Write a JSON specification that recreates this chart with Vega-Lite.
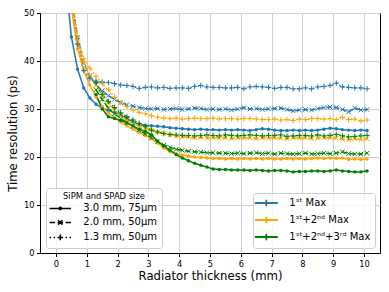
{
"$schema":"https://vega.github.io/schema/vega-lite/v6.json",
"width":340,"height":240,
"autosize":{"type":"none"},
"padding":{"left":40,"top":13,"right":9,"bottom":39},
"config":{
 "font":"DejaVu Sans",
 "view":{"stroke":"black","strokeWidth":1},
 "axis":{"domainColor":"black","tickColor":"black","labelColor":"black","titleColor":"black","labelFont":"DejaVu Sans","titleFont":"DejaVu Sans","labelFontSize":8.3,"titleFontSize":11.7,"titleFontWeight":"normal","tickSize":3.5,"gridColor":"#d0d0d0","gridWidth":1,"labelPadding":2.5},
 "legend":{"labelFont":"DejaVu Sans","labelFontSize":10,"labelColor":"black","titleFont":"DejaVu Sans","titleFontSize":8.4,"titleFontWeight":"normal","titleColor":"black","padding":4,"fillColor":"rgba(255,255,255,0.8)","strokeColor":"#cccccc","cornerRadius":3,"offset":5.5,"rowPadding":3,"titlePadding":2}
},
"data":{"values":[
{"x":0.3,"y":58,"m":"1ˢᵗ Max","s":"3.0 mm, 75μm"},{"x":0.5,"y":45,"m":"1ˢᵗ Max","s":"3.0 mm, 75μm"},{"x":0.7,"y":38.3,"m":"1ˢᵗ Max","s":"3.0 mm, 75μm"},{"x":0.9,"y":34.4,"m":"1ˢᵗ Max","s":"3.0 mm, 75μm"},{"x":1.1,"y":32.3,"m":"1ˢᵗ Max","s":"3.0 mm, 75μm"},{"x":1.3,"y":31.0,"m":"1ˢᵗ Max","s":"3.0 mm, 75μm"},{"x":1.5,"y":30.2,"m":"1ˢᵗ Max","s":"3.0 mm, 75μm"},{"x":1.7,"y":29.7,"m":"1ˢᵗ Max","s":"3.0 mm, 75μm"},{"x":1.9,"y":29.3,"m":"1ˢᵗ Max","s":"3.0 mm, 75μm"},{"x":2.1,"y":28.8,"m":"1ˢᵗ Max","s":"3.0 mm, 75μm"},
{"x":2.3,"y":28.0,"m":"1ˢᵗ Max","s":"3.0 mm, 75μm"},{"x":2.5,"y":27.3,"m":"1ˢᵗ Max","s":"3.0 mm, 75μm"},{"x":2.7,"y":26.8,"m":"1ˢᵗ Max","s":"3.0 mm, 75μm"},{"x":2.9,"y":26.6,"m":"1ˢᵗ Max","s":"3.0 mm, 75μm"},{"x":3.1,"y":26.5,"m":"1ˢᵗ Max","s":"3.0 mm, 75μm"},{"x":3.3,"y":26.4,"m":"1ˢᵗ Max","s":"3.0 mm, 75μm"},{"x":3.5,"y":26.3,"m":"1ˢᵗ Max","s":"3.0 mm, 75μm"},{"x":3.7,"y":26.1,"m":"1ˢᵗ Max","s":"3.0 mm, 75μm"},{"x":3.9,"y":26.0,"m":"1ˢᵗ Max","s":"3.0 mm, 75μm"},{"x":4.1,"y":25.9,"m":"1ˢᵗ Max","s":"3.0 mm, 75μm"},
{"x":4.3,"y":25.8,"m":"1ˢᵗ Max","s":"3.0 mm, 75μm"},{"x":4.5,"y":25.7,"m":"1ˢᵗ Max","s":"3.0 mm, 75μm"},{"x":4.7,"y":25.8,"m":"1ˢᵗ Max","s":"3.0 mm, 75μm"},{"x":4.9,"y":25.7,"m":"1ˢᵗ Max","s":"3.0 mm, 75μm"},{"x":5.1,"y":25.7,"m":"1ˢᵗ Max","s":"3.0 mm, 75μm"},{"x":5.3,"y":25.6,"m":"1ˢᵗ Max","s":"3.0 mm, 75μm"},{"x":5.5,"y":25.7,"m":"1ˢᵗ Max","s":"3.0 mm, 75μm"},{"x":5.7,"y":25.6,"m":"1ˢᵗ Max","s":"3.0 mm, 75μm"},{"x":5.9,"y":25.7,"m":"1ˢᵗ Max","s":"3.0 mm, 75μm"},{"x":6.1,"y":25.6,"m":"1ˢᵗ Max","s":"3.0 mm, 75μm"},
{"x":6.3,"y":25.5,"m":"1ˢᵗ Max","s":"3.0 mm, 75μm"},{"x":6.5,"y":25.7,"m":"1ˢᵗ Max","s":"3.0 mm, 75μm"},{"x":6.7,"y":25.9,"m":"1ˢᵗ Max","s":"3.0 mm, 75μm"},{"x":6.9,"y":25.8,"m":"1ˢᵗ Max","s":"3.0 mm, 75μm"},{"x":7.1,"y":25.6,"m":"1ˢᵗ Max","s":"3.0 mm, 75μm"},{"x":7.3,"y":25.5,"m":"1ˢᵗ Max","s":"3.0 mm, 75μm"},{"x":7.5,"y":25.5,"m":"1ˢᵗ Max","s":"3.0 mm, 75μm"},{"x":7.7,"y":25.6,"m":"1ˢᵗ Max","s":"3.0 mm, 75μm"},{"x":7.9,"y":25.5,"m":"1ˢᵗ Max","s":"3.0 mm, 75μm"},{"x":8.1,"y":25.6,"m":"1ˢᵗ Max","s":"3.0 mm, 75μm"},
{"x":8.3,"y":25.5,"m":"1ˢᵗ Max","s":"3.0 mm, 75μm"},{"x":8.5,"y":25.6,"m":"1ˢᵗ Max","s":"3.0 mm, 75μm"},{"x":8.7,"y":25.8,"m":"1ˢᵗ Max","s":"3.0 mm, 75μm"},{"x":8.9,"y":26.0,"m":"1ˢᵗ Max","s":"3.0 mm, 75μm"},{"x":9.1,"y":25.9,"m":"1ˢᵗ Max","s":"3.0 mm, 75μm"},{"x":9.3,"y":25.7,"m":"1ˢᵗ Max","s":"3.0 mm, 75μm"},{"x":9.5,"y":25.6,"m":"1ˢᵗ Max","s":"3.0 mm, 75μm"},{"x":9.7,"y":25.5,"m":"1ˢᵗ Max","s":"3.0 mm, 75μm"},{"x":9.9,"y":25.6,"m":"1ˢᵗ Max","s":"3.0 mm, 75μm"},{"x":10.1,"y":25.5,"m":"1ˢᵗ Max","s":"3.0 mm, 75μm"},

{"x":0.3,"y":65,"m":"1ˢᵗ Max","s":"2.0 mm, 50μm"},{"x":0.5,"y":53,"m":"1ˢᵗ Max","s":"2.0 mm, 50μm"},{"x":0.7,"y":45,"m":"1ˢᵗ Max","s":"2.0 mm, 50μm"},{"x":0.9,"y":39.5,"m":"1ˢᵗ Max","s":"2.0 mm, 50μm"},{"x":1.1,"y":36.8,"m":"1ˢᵗ Max","s":"2.0 mm, 50μm"},{"x":1.3,"y":35.0,"m":"1ˢᵗ Max","s":"2.0 mm, 50μm"},{"x":1.5,"y":33.8,"m":"1ˢᵗ Max","s":"2.0 mm, 50μm"},{"x":1.7,"y":32.8,"m":"1ˢᵗ Max","s":"2.0 mm, 50μm"},{"x":1.9,"y":32.0,"m":"1ˢᵗ Max","s":"2.0 mm, 50μm"},{"x":2.1,"y":31.3,"m":"1ˢᵗ Max","s":"2.0 mm, 50μm"},
{"x":2.3,"y":30.9,"m":"1ˢᵗ Max","s":"2.0 mm, 50μm"},{"x":2.5,"y":30.6,"m":"1ˢᵗ Max","s":"2.0 mm, 50μm"},{"x":2.7,"y":30.3,"m":"1ˢᵗ Max","s":"2.0 mm, 50μm"},{"x":2.9,"y":30.1,"m":"1ˢᵗ Max","s":"2.0 mm, 50μm"},{"x":3.1,"y":30.0,"m":"1ˢᵗ Max","s":"2.0 mm, 50μm"},{"x":3.3,"y":30.1,"m":"1ˢᵗ Max","s":"2.0 mm, 50μm"},{"x":3.5,"y":29.9,"m":"1ˢᵗ Max","s":"2.0 mm, 50μm"},{"x":3.7,"y":30.0,"m":"1ˢᵗ Max","s":"2.0 mm, 50μm"},{"x":3.9,"y":30.1,"m":"1ˢᵗ Max","s":"2.0 mm, 50μm"},{"x":4.1,"y":29.9,"m":"1ˢᵗ Max","s":"2.0 mm, 50μm"},
{"x":4.3,"y":30.0,"m":"1ˢᵗ Max","s":"2.0 mm, 50μm"},{"x":4.5,"y":30.2,"m":"1ˢᵗ Max","s":"2.0 mm, 50μm"},{"x":4.7,"y":30.1,"m":"1ˢᵗ Max","s":"2.0 mm, 50μm"},{"x":4.9,"y":29.9,"m":"1ˢᵗ Max","s":"2.0 mm, 50μm"},{"x":5.1,"y":30.0,"m":"1ˢᵗ Max","s":"2.0 mm, 50μm"},{"x":5.3,"y":29.9,"m":"1ˢᵗ Max","s":"2.0 mm, 50μm"},{"x":5.5,"y":30.0,"m":"1ˢᵗ Max","s":"2.0 mm, 50μm"},{"x":5.7,"y":29.8,"m":"1ˢᵗ Max","s":"2.0 mm, 50μm"},{"x":5.9,"y":30.0,"m":"1ˢᵗ Max","s":"2.0 mm, 50μm"},{"x":6.1,"y":30.3,"m":"1ˢᵗ Max","s":"2.0 mm, 50μm"},
{"x":6.3,"y":30.0,"m":"1ˢᵗ Max","s":"2.0 mm, 50μm"},{"x":6.5,"y":30.1,"m":"1ˢᵗ Max","s":"2.0 mm, 50μm"},{"x":6.7,"y":29.9,"m":"1ˢᵗ Max","s":"2.0 mm, 50μm"},{"x":6.9,"y":30.0,"m":"1ˢᵗ Max","s":"2.0 mm, 50μm"},{"x":7.1,"y":30.1,"m":"1ˢᵗ Max","s":"2.0 mm, 50μm"},{"x":7.3,"y":30.2,"m":"1ˢᵗ Max","s":"2.0 mm, 50μm"},{"x":7.5,"y":29.9,"m":"1ˢᵗ Max","s":"2.0 mm, 50μm"},{"x":7.7,"y":29.6,"m":"1ˢᵗ Max","s":"2.0 mm, 50μm"},{"x":7.9,"y":29.8,"m":"1ˢᵗ Max","s":"2.0 mm, 50μm"},{"x":8.1,"y":29.9,"m":"1ˢᵗ Max","s":"2.0 mm, 50μm"},
{"x":8.3,"y":29.8,"m":"1ˢᵗ Max","s":"2.0 mm, 50μm"},{"x":8.5,"y":30.1,"m":"1ˢᵗ Max","s":"2.0 mm, 50μm"},{"x":8.7,"y":30.3,"m":"1ˢᵗ Max","s":"2.0 mm, 50μm"},{"x":8.9,"y":30.4,"m":"1ˢᵗ Max","s":"2.0 mm, 50μm"},{"x":9.1,"y":30.3,"m":"1ˢᵗ Max","s":"2.0 mm, 50μm"},{"x":9.3,"y":29.9,"m":"1ˢᵗ Max","s":"2.0 mm, 50μm"},{"x":9.5,"y":29.4,"m":"1ˢᵗ Max","s":"2.0 mm, 50μm"},{"x":9.7,"y":30.2,"m":"1ˢᵗ Max","s":"2.0 mm, 50μm"},{"x":9.9,"y":29.8,"m":"1ˢᵗ Max","s":"2.0 mm, 50μm"},{"x":10.1,"y":29.9,"m":"1ˢᵗ Max","s":"2.0 mm, 50μm"},

{"x":0.3,"y":66,"m":"1ˢᵗ Max","s":"1.3 mm, 50μm"},{"x":0.5,"y":54,"m":"1ˢᵗ Max","s":"1.3 mm, 50μm"},{"x":0.7,"y":43.5,"m":"1ˢᵗ Max","s":"1.3 mm, 50μm"},{"x":0.9,"y":38.0,"m":"1ˢᵗ Max","s":"1.3 mm, 50μm"},{"x":1.1,"y":36.3,"m":"1ˢᵗ Max","s":"1.3 mm, 50μm"},{"x":1.3,"y":35.8,"m":"1ˢᵗ Max","s":"1.3 mm, 50μm"},{"x":1.5,"y":35.6,"m":"1ˢᵗ Max","s":"1.3 mm, 50μm"},{"x":1.7,"y":35.5,"m":"1ˢᵗ Max","s":"1.3 mm, 50μm"},{"x":1.9,"y":35.3,"m":"1ˢᵗ Max","s":"1.3 mm, 50μm"},{"x":2.1,"y":35.0,"m":"1ˢᵗ Max","s":"1.3 mm, 50μm"},
{"x":2.3,"y":34.9,"m":"1ˢᵗ Max","s":"1.3 mm, 50μm"},{"x":2.5,"y":34.7,"m":"1ˢᵗ Max","s":"1.3 mm, 50μm"},{"x":2.7,"y":34.3,"m":"1ˢᵗ Max","s":"1.3 mm, 50μm"},{"x":2.9,"y":34.5,"m":"1ˢᵗ Max","s":"1.3 mm, 50μm"},{"x":3.1,"y":34.6,"m":"1ˢᵗ Max","s":"1.3 mm, 50μm"},{"x":3.3,"y":34.4,"m":"1ˢᵗ Max","s":"1.3 mm, 50μm"},{"x":3.5,"y":34.5,"m":"1ˢᵗ Max","s":"1.3 mm, 50μm"},{"x":3.7,"y":34.3,"m":"1ˢᵗ Max","s":"1.3 mm, 50μm"},{"x":3.9,"y":34.4,"m":"1ˢᵗ Max","s":"1.3 mm, 50μm"},{"x":4.1,"y":34.4,"m":"1ˢᵗ Max","s":"1.3 mm, 50μm"},
{"x":4.3,"y":34.3,"m":"1ˢᵗ Max","s":"1.3 mm, 50μm"},{"x":4.5,"y":34.7,"m":"1ˢᵗ Max","s":"1.3 mm, 50μm"},{"x":4.7,"y":34.9,"m":"1ˢᵗ Max","s":"1.3 mm, 50μm"},{"x":4.9,"y":34.6,"m":"1ˢᵗ Max","s":"1.3 mm, 50μm"},{"x":5.1,"y":34.5,"m":"1ˢᵗ Max","s":"1.3 mm, 50μm"},{"x":5.3,"y":34.5,"m":"1ˢᵗ Max","s":"1.3 mm, 50μm"},{"x":5.5,"y":34.4,"m":"1ˢᵗ Max","s":"1.3 mm, 50μm"},{"x":5.7,"y":34.4,"m":"1ˢᵗ Max","s":"1.3 mm, 50μm"},{"x":5.9,"y":34.5,"m":"1ˢᵗ Max","s":"1.3 mm, 50μm"},{"x":6.1,"y":34.2,"m":"1ˢᵗ Max","s":"1.3 mm, 50μm"},
{"x":6.3,"y":34.6,"m":"1ˢᵗ Max","s":"1.3 mm, 50μm"},{"x":6.5,"y":34.7,"m":"1ˢᵗ Max","s":"1.3 mm, 50μm"},{"x":6.7,"y":34.6,"m":"1ˢᵗ Max","s":"1.3 mm, 50μm"},{"x":6.9,"y":34.5,"m":"1ˢᵗ Max","s":"1.3 mm, 50μm"},{"x":7.1,"y":34.3,"m":"1ˢᵗ Max","s":"1.3 mm, 50μm"},{"x":7.3,"y":34.5,"m":"1ˢᵗ Max","s":"1.3 mm, 50μm"},{"x":7.5,"y":34.5,"m":"1ˢᵗ Max","s":"1.3 mm, 50μm"},{"x":7.7,"y":34.2,"m":"1ˢᵗ Max","s":"1.3 mm, 50μm"},{"x":7.9,"y":34.2,"m":"1ˢᵗ Max","s":"1.3 mm, 50μm"},{"x":8.1,"y":34.4,"m":"1ˢᵗ Max","s":"1.3 mm, 50μm"},
{"x":8.3,"y":34.2,"m":"1ˢᵗ Max","s":"1.3 mm, 50μm"},{"x":8.5,"y":34.6,"m":"1ˢᵗ Max","s":"1.3 mm, 50μm"},{"x":8.7,"y":34.7,"m":"1ˢᵗ Max","s":"1.3 mm, 50μm"},{"x":8.9,"y":34.9,"m":"1ˢᵗ Max","s":"1.3 mm, 50μm"},{"x":9.1,"y":35.4,"m":"1ˢᵗ Max","s":"1.3 mm, 50μm"},{"x":9.3,"y":34.6,"m":"1ˢᵗ Max","s":"1.3 mm, 50μm"},{"x":9.5,"y":34.5,"m":"1ˢᵗ Max","s":"1.3 mm, 50μm"},{"x":9.7,"y":34.4,"m":"1ˢᵗ Max","s":"1.3 mm, 50μm"},{"x":9.9,"y":34.4,"m":"1ˢᵗ Max","s":"1.3 mm, 50μm"},{"x":10.1,"y":34.2,"m":"1ˢᵗ Max","s":"1.3 mm, 50μm"},

{"x":0.3,"y":65,"m":"1ˢᵗ+2ⁿᵈ Max","s":"3.0 mm, 75μm"},{"x":0.5,"y":51,"m":"1ˢᵗ+2ⁿᵈ Max","s":"3.0 mm, 75μm"},{"x":0.7,"y":42.5,"m":"1ˢᵗ+2ⁿᵈ Max","s":"3.0 mm, 75μm"},{"x":0.9,"y":38.0,"m":"1ˢᵗ+2ⁿᵈ Max","s":"3.0 mm, 75μm"},{"x":1.1,"y":35.0,"m":"1ˢᵗ+2ⁿᵈ Max","s":"3.0 mm, 75μm"},{"x":1.3,"y":32.5,"m":"1ˢᵗ+2ⁿᵈ Max","s":"3.0 mm, 75μm"},{"x":1.5,"y":30.5,"m":"1ˢᵗ+2ⁿᵈ Max","s":"3.0 mm, 75μm"},{"x":1.7,"y":29.2,"m":"1ˢᵗ+2ⁿᵈ Max","s":"3.0 mm, 75μm"},{"x":1.9,"y":28.2,"m":"1ˢᵗ+2ⁿᵈ Max","s":"3.0 mm, 75μm"},{"x":2.1,"y":27.3,"m":"1ˢᵗ+2ⁿᵈ Max","s":"3.0 mm, 75μm"},
{"x":2.3,"y":26.5,"m":"1ˢᵗ+2ⁿᵈ Max","s":"3.0 mm, 75μm"},{"x":2.5,"y":25.8,"m":"1ˢᵗ+2ⁿᵈ Max","s":"3.0 mm, 75μm"},{"x":2.7,"y":25.1,"m":"1ˢᵗ+2ⁿᵈ Max","s":"3.0 mm, 75μm"},{"x":2.9,"y":24.5,"m":"1ˢᵗ+2ⁿᵈ Max","s":"3.0 mm, 75μm"},{"x":3.1,"y":23.8,"m":"1ˢᵗ+2ⁿᵈ Max","s":"3.0 mm, 75μm"},{"x":3.3,"y":22.9,"m":"1ˢᵗ+2ⁿᵈ Max","s":"3.0 mm, 75μm"},{"x":3.5,"y":21.9,"m":"1ˢᵗ+2ⁿᵈ Max","s":"3.0 mm, 75μm"},{"x":3.7,"y":21.1,"m":"1ˢᵗ+2ⁿᵈ Max","s":"3.0 mm, 75μm"},{"x":3.9,"y":20.7,"m":"1ˢᵗ+2ⁿᵈ Max","s":"3.0 mm, 75μm"},{"x":4.1,"y":20.4,"m":"1ˢᵗ+2ⁿᵈ Max","s":"3.0 mm, 75μm"},
{"x":4.3,"y":20.2,"m":"1ˢᵗ+2ⁿᵈ Max","s":"3.0 mm, 75μm"},{"x":4.5,"y":20.0,"m":"1ˢᵗ+2ⁿᵈ Max","s":"3.0 mm, 75μm"},{"x":4.7,"y":19.9,"m":"1ˢᵗ+2ⁿᵈ Max","s":"3.0 mm, 75μm"},{"x":4.9,"y":19.8,"m":"1ˢᵗ+2ⁿᵈ Max","s":"3.0 mm, 75μm"},{"x":5.1,"y":19.7,"m":"1ˢᵗ+2ⁿᵈ Max","s":"3.0 mm, 75μm"},{"x":5.3,"y":19.7,"m":"1ˢᵗ+2ⁿᵈ Max","s":"3.0 mm, 75μm"},{"x":5.5,"y":19.6,"m":"1ˢᵗ+2ⁿᵈ Max","s":"3.0 mm, 75μm"},{"x":5.7,"y":19.7,"m":"1ˢᵗ+2ⁿᵈ Max","s":"3.0 mm, 75μm"},{"x":5.9,"y":19.6,"m":"1ˢᵗ+2ⁿᵈ Max","s":"3.0 mm, 75μm"},{"x":6.1,"y":19.7,"m":"1ˢᵗ+2ⁿᵈ Max","s":"3.0 mm, 75μm"},
{"x":6.3,"y":19.6,"m":"1ˢᵗ+2ⁿᵈ Max","s":"3.0 mm, 75μm"},{"x":6.5,"y":19.7,"m":"1ˢᵗ+2ⁿᵈ Max","s":"3.0 mm, 75μm"},{"x":6.7,"y":19.6,"m":"1ˢᵗ+2ⁿᵈ Max","s":"3.0 mm, 75μm"},{"x":6.9,"y":19.7,"m":"1ˢᵗ+2ⁿᵈ Max","s":"3.0 mm, 75μm"},{"x":7.1,"y":19.6,"m":"1ˢᵗ+2ⁿᵈ Max","s":"3.0 mm, 75μm"},{"x":7.3,"y":19.6,"m":"1ˢᵗ+2ⁿᵈ Max","s":"3.0 mm, 75μm"},{"x":7.5,"y":19.7,"m":"1ˢᵗ+2ⁿᵈ Max","s":"3.0 mm, 75μm"},{"x":7.7,"y":19.6,"m":"1ˢᵗ+2ⁿᵈ Max","s":"3.0 mm, 75μm"},{"x":7.9,"y":19.7,"m":"1ˢᵗ+2ⁿᵈ Max","s":"3.0 mm, 75μm"},{"x":8.1,"y":19.6,"m":"1ˢᵗ+2ⁿᵈ Max","s":"3.0 mm, 75μm"},
{"x":8.3,"y":19.7,"m":"1ˢᵗ+2ⁿᵈ Max","s":"3.0 mm, 75μm"},{"x":8.5,"y":19.8,"m":"1ˢᵗ+2ⁿᵈ Max","s":"3.0 mm, 75μm"},{"x":8.7,"y":19.7,"m":"1ˢᵗ+2ⁿᵈ Max","s":"3.0 mm, 75μm"},{"x":8.9,"y":19.8,"m":"1ˢᵗ+2ⁿᵈ Max","s":"3.0 mm, 75μm"},{"x":9.1,"y":19.7,"m":"1ˢᵗ+2ⁿᵈ Max","s":"3.0 mm, 75μm"},{"x":9.3,"y":19.8,"m":"1ˢᵗ+2ⁿᵈ Max","s":"3.0 mm, 75μm"},{"x":9.5,"y":19.5,"m":"1ˢᵗ+2ⁿᵈ Max","s":"3.0 mm, 75μm"},{"x":9.7,"y":19.6,"m":"1ˢᵗ+2ⁿᵈ Max","s":"3.0 mm, 75μm"},{"x":9.9,"y":19.5,"m":"1ˢᵗ+2ⁿᵈ Max","s":"3.0 mm, 75μm"},{"x":10.1,"y":19.6,"m":"1ˢᵗ+2ⁿᵈ Max","s":"3.0 mm, 75μm"},

{"x":0.3,"y":68,"m":"1ˢᵗ+2ⁿᵈ Max","s":"2.0 mm, 50μm"},{"x":0.5,"y":53,"m":"1ˢᵗ+2ⁿᵈ Max","s":"2.0 mm, 50μm"},{"x":0.7,"y":44,"m":"1ˢᵗ+2ⁿᵈ Max","s":"2.0 mm, 50μm"},{"x":0.9,"y":39.5,"m":"1ˢᵗ+2ⁿᵈ Max","s":"2.0 mm, 50μm"},{"x":1.1,"y":37.0,"m":"1ˢᵗ+2ⁿᵈ Max","s":"2.0 mm, 50μm"},{"x":1.3,"y":35.0,"m":"1ˢᵗ+2ⁿᵈ Max","s":"2.0 mm, 50μm"},{"x":1.5,"y":33.0,"m":"1ˢᵗ+2ⁿᵈ Max","s":"2.0 mm, 50μm"},{"x":1.7,"y":31.3,"m":"1ˢᵗ+2ⁿᵈ Max","s":"2.0 mm, 50μm"},{"x":1.9,"y":29.8,"m":"1ˢᵗ+2ⁿᵈ Max","s":"2.0 mm, 50μm"},{"x":2.1,"y":28.6,"m":"1ˢᵗ+2ⁿᵈ Max","s":"2.0 mm, 50μm"},
{"x":2.3,"y":27.7,"m":"1ˢᵗ+2ⁿᵈ Max","s":"2.0 mm, 50μm"},{"x":2.5,"y":27.0,"m":"1ˢᵗ+2ⁿᵈ Max","s":"2.0 mm, 50μm"},{"x":2.7,"y":26.4,"m":"1ˢᵗ+2ⁿᵈ Max","s":"2.0 mm, 50μm"},{"x":2.9,"y":26.0,"m":"1ˢᵗ+2ⁿᵈ Max","s":"2.0 mm, 50μm"},{"x":3.1,"y":25.6,"m":"1ˢᵗ+2ⁿᵈ Max","s":"2.0 mm, 50μm"},{"x":3.3,"y":25.2,"m":"1ˢᵗ+2ⁿᵈ Max","s":"2.0 mm, 50μm"},{"x":3.5,"y":24.9,"m":"1ˢᵗ+2ⁿᵈ Max","s":"2.0 mm, 50μm"},{"x":3.7,"y":24.6,"m":"1ˢᵗ+2ⁿᵈ Max","s":"2.0 mm, 50μm"},{"x":3.9,"y":24.4,"m":"1ˢᵗ+2ⁿᵈ Max","s":"2.0 mm, 50μm"},{"x":4.1,"y":24.2,"m":"1ˢᵗ+2ⁿᵈ Max","s":"2.0 mm, 50μm"},
{"x":4.3,"y":24.1,"m":"1ˢᵗ+2ⁿᵈ Max","s":"2.0 mm, 50μm"},{"x":4.5,"y":24.0,"m":"1ˢᵗ+2ⁿᵈ Max","s":"2.0 mm, 50μm"},{"x":4.7,"y":24.1,"m":"1ˢᵗ+2ⁿᵈ Max","s":"2.0 mm, 50μm"},{"x":4.9,"y":23.9,"m":"1ˢᵗ+2ⁿᵈ Max","s":"2.0 mm, 50μm"},{"x":5.1,"y":24.0,"m":"1ˢᵗ+2ⁿᵈ Max","s":"2.0 mm, 50μm"},{"x":5.3,"y":23.9,"m":"1ˢᵗ+2ⁿᵈ Max","s":"2.0 mm, 50μm"},{"x":5.5,"y":24.0,"m":"1ˢᵗ+2ⁿᵈ Max","s":"2.0 mm, 50μm"},{"x":5.7,"y":23.8,"m":"1ˢᵗ+2ⁿᵈ Max","s":"2.0 mm, 50μm"},{"x":5.9,"y":24.0,"m":"1ˢᵗ+2ⁿᵈ Max","s":"2.0 mm, 50μm"},{"x":6.1,"y":23.9,"m":"1ˢᵗ+2ⁿᵈ Max","s":"2.0 mm, 50μm"},
{"x":6.3,"y":24.0,"m":"1ˢᵗ+2ⁿᵈ Max","s":"2.0 mm, 50μm"},{"x":6.5,"y":23.8,"m":"1ˢᵗ+2ⁿᵈ Max","s":"2.0 mm, 50μm"},{"x":6.7,"y":24.0,"m":"1ˢᵗ+2ⁿᵈ Max","s":"2.0 mm, 50μm"},{"x":6.9,"y":23.9,"m":"1ˢᵗ+2ⁿᵈ Max","s":"2.0 mm, 50μm"},{"x":7.1,"y":24.0,"m":"1ˢᵗ+2ⁿᵈ Max","s":"2.0 mm, 50μm"},{"x":7.3,"y":23.9,"m":"1ˢᵗ+2ⁿᵈ Max","s":"2.0 mm, 50μm"},{"x":7.5,"y":23.8,"m":"1ˢᵗ+2ⁿᵈ Max","s":"2.0 mm, 50μm"},{"x":7.7,"y":24.0,"m":"1ˢᵗ+2ⁿᵈ Max","s":"2.0 mm, 50μm"},{"x":7.9,"y":23.9,"m":"1ˢᵗ+2ⁿᵈ Max","s":"2.0 mm, 50μm"},{"x":8.1,"y":24.0,"m":"1ˢᵗ+2ⁿᵈ Max","s":"2.0 mm, 50μm"},
{"x":8.3,"y":23.8,"m":"1ˢᵗ+2ⁿᵈ Max","s":"2.0 mm, 50μm"},{"x":8.5,"y":23.9,"m":"1ˢᵗ+2ⁿᵈ Max","s":"2.0 mm, 50μm"},{"x":8.7,"y":24.0,"m":"1ˢᵗ+2ⁿᵈ Max","s":"2.0 mm, 50μm"},{"x":8.9,"y":24.0,"m":"1ˢᵗ+2ⁿᵈ Max","s":"2.0 mm, 50μm"},{"x":9.1,"y":23.9,"m":"1ˢᵗ+2ⁿᵈ Max","s":"2.0 mm, 50μm"},{"x":9.3,"y":23.7,"m":"1ˢᵗ+2ⁿᵈ Max","s":"2.0 mm, 50μm"},{"x":9.5,"y":23.6,"m":"1ˢᵗ+2ⁿᵈ Max","s":"2.0 mm, 50μm"},{"x":9.7,"y":23.8,"m":"1ˢᵗ+2ⁿᵈ Max","s":"2.0 mm, 50μm"},{"x":9.9,"y":23.6,"m":"1ˢᵗ+2ⁿᵈ Max","s":"2.0 mm, 50μm"},{"x":10.1,"y":23.8,"m":"1ˢᵗ+2ⁿᵈ Max","s":"2.0 mm, 50μm"},

{"x":0.3,"y":70,"m":"1ˢᵗ+2ⁿᵈ Max","s":"1.3 mm, 50μm"},{"x":0.5,"y":55,"m":"1ˢᵗ+2ⁿᵈ Max","s":"1.3 mm, 50μm"},{"x":0.7,"y":45,"m":"1ˢᵗ+2ⁿᵈ Max","s":"1.3 mm, 50μm"},{"x":0.9,"y":40.5,"m":"1ˢᵗ+2ⁿᵈ Max","s":"1.3 mm, 50μm"},{"x":1.1,"y":38.5,"m":"1ˢᵗ+2ⁿᵈ Max","s":"1.3 mm, 50μm"},{"x":1.3,"y":36.8,"m":"1ˢᵗ+2ⁿᵈ Max","s":"1.3 mm, 50μm"},{"x":1.5,"y":35.3,"m":"1ˢᵗ+2ⁿᵈ Max","s":"1.3 mm, 50μm"},{"x":1.7,"y":34.0,"m":"1ˢᵗ+2ⁿᵈ Max","s":"1.3 mm, 50μm"},{"x":1.9,"y":32.5,"m":"1ˢᵗ+2ⁿᵈ Max","s":"1.3 mm, 50μm"},{"x":2.1,"y":31.3,"m":"1ˢᵗ+2ⁿᵈ Max","s":"1.3 mm, 50μm"},
{"x":2.3,"y":30.5,"m":"1ˢᵗ+2ⁿᵈ Max","s":"1.3 mm, 50μm"},{"x":2.5,"y":29.8,"m":"1ˢᵗ+2ⁿᵈ Max","s":"1.3 mm, 50μm"},{"x":2.7,"y":29.3,"m":"1ˢᵗ+2ⁿᵈ Max","s":"1.3 mm, 50μm"},{"x":2.9,"y":29.0,"m":"1ˢᵗ+2ⁿᵈ Max","s":"1.3 mm, 50μm"},{"x":3.1,"y":28.6,"m":"1ˢᵗ+2ⁿᵈ Max","s":"1.3 mm, 50μm"},{"x":3.3,"y":28.3,"m":"1ˢᵗ+2ⁿᵈ Max","s":"1.3 mm, 50μm"},{"x":3.5,"y":28.1,"m":"1ˢᵗ+2ⁿᵈ Max","s":"1.3 mm, 50μm"},{"x":3.7,"y":28.0,"m":"1ˢᵗ+2ⁿᵈ Max","s":"1.3 mm, 50μm"},{"x":3.9,"y":28.1,"m":"1ˢᵗ+2ⁿᵈ Max","s":"1.3 mm, 50μm"},{"x":4.1,"y":27.9,"m":"1ˢᵗ+2ⁿᵈ Max","s":"1.3 mm, 50μm"},
{"x":4.3,"y":28.0,"m":"1ˢᵗ+2ⁿᵈ Max","s":"1.3 mm, 50μm"},{"x":4.5,"y":28.1,"m":"1ˢᵗ+2ⁿᵈ Max","s":"1.3 mm, 50μm"},{"x":4.7,"y":28.0,"m":"1ˢᵗ+2ⁿᵈ Max","s":"1.3 mm, 50μm"},{"x":4.9,"y":28.0,"m":"1ˢᵗ+2ⁿᵈ Max","s":"1.3 mm, 50μm"},{"x":5.1,"y":28.1,"m":"1ˢᵗ+2ⁿᵈ Max","s":"1.3 mm, 50μm"},{"x":5.3,"y":27.9,"m":"1ˢᵗ+2ⁿᵈ Max","s":"1.3 mm, 50μm"},{"x":5.5,"y":28.0,"m":"1ˢᵗ+2ⁿᵈ Max","s":"1.3 mm, 50μm"},{"x":5.7,"y":28.0,"m":"1ˢᵗ+2ⁿᵈ Max","s":"1.3 mm, 50μm"},{"x":5.9,"y":27.9,"m":"1ˢᵗ+2ⁿᵈ Max","s":"1.3 mm, 50μm"},{"x":6.1,"y":28.0,"m":"1ˢᵗ+2ⁿᵈ Max","s":"1.3 mm, 50μm"},
{"x":6.3,"y":28.0,"m":"1ˢᵗ+2ⁿᵈ Max","s":"1.3 mm, 50μm"},{"x":6.5,"y":27.9,"m":"1ˢᵗ+2ⁿᵈ Max","s":"1.3 mm, 50μm"},{"x":6.7,"y":27.8,"m":"1ˢᵗ+2ⁿᵈ Max","s":"1.3 mm, 50μm"},{"x":6.9,"y":27.8,"m":"1ˢᵗ+2ⁿᵈ Max","s":"1.3 mm, 50μm"},{"x":7.1,"y":27.9,"m":"1ˢᵗ+2ⁿᵈ Max","s":"1.3 mm, 50μm"},{"x":7.3,"y":27.7,"m":"1ˢᵗ+2ⁿᵈ Max","s":"1.3 mm, 50μm"},{"x":7.5,"y":27.8,"m":"1ˢᵗ+2ⁿᵈ Max","s":"1.3 mm, 50μm"},{"x":7.7,"y":27.6,"m":"1ˢᵗ+2ⁿᵈ Max","s":"1.3 mm, 50μm"},{"x":7.9,"y":27.9,"m":"1ˢᵗ+2ⁿᵈ Max","s":"1.3 mm, 50μm"},{"x":8.1,"y":27.8,"m":"1ˢᵗ+2ⁿᵈ Max","s":"1.3 mm, 50μm"},
{"x":8.3,"y":28.0,"m":"1ˢᵗ+2ⁿᵈ Max","s":"1.3 mm, 50μm"},{"x":8.5,"y":28.0,"m":"1ˢᵗ+2ⁿᵈ Max","s":"1.3 mm, 50μm"},{"x":8.7,"y":27.9,"m":"1ˢᵗ+2ⁿᵈ Max","s":"1.3 mm, 50μm"},{"x":8.9,"y":28.0,"m":"1ˢᵗ+2ⁿᵈ Max","s":"1.3 mm, 50μm"},{"x":9.1,"y":27.8,"m":"1ˢᵗ+2ⁿᵈ Max","s":"1.3 mm, 50μm"},{"x":9.3,"y":28.3,"m":"1ˢᵗ+2ⁿᵈ Max","s":"1.3 mm, 50μm"},{"x":9.5,"y":27.8,"m":"1ˢᵗ+2ⁿᵈ Max","s":"1.3 mm, 50μm"},{"x":9.7,"y":27.9,"m":"1ˢᵗ+2ⁿᵈ Max","s":"1.3 mm, 50μm"},{"x":9.9,"y":27.5,"m":"1ˢᵗ+2ⁿᵈ Max","s":"1.3 mm, 50μm"},{"x":10.1,"y":27.7,"m":"1ˢᵗ+2ⁿᵈ Max","s":"1.3 mm, 50μm"},

{"x":1.3,"y":33.0,"m":"1ˢᵗ+2ⁿᵈ+3ʳᵈ Max","s":"3.0 mm, 75μm"},{"x":1.5,"y":30.0,"m":"1ˢᵗ+2ⁿᵈ+3ʳᵈ Max","s":"3.0 mm, 75μm"},{"x":1.7,"y":28.4,"m":"1ˢᵗ+2ⁿᵈ+3ʳᵈ Max","s":"3.0 mm, 75μm"},{"x":1.9,"y":28.0,"m":"1ˢᵗ+2ⁿᵈ+3ʳᵈ Max","s":"3.0 mm, 75μm"},{"x":2.1,"y":27.6,"m":"1ˢᵗ+2ⁿᵈ+3ʳᵈ Max","s":"3.0 mm, 75μm"},{"x":2.3,"y":27.1,"m":"1ˢᵗ+2ⁿᵈ+3ʳᵈ Max","s":"3.0 mm, 75μm"},{"x":2.5,"y":26.5,"m":"1ˢᵗ+2ⁿᵈ+3ʳᵈ Max","s":"3.0 mm, 75μm"},{"x":2.7,"y":25.8,"m":"1ˢᵗ+2ⁿᵈ+3ʳᵈ Max","s":"3.0 mm, 75μm"},{"x":2.9,"y":25.3,"m":"1ˢᵗ+2ⁿᵈ+3ʳᵈ Max","s":"3.0 mm, 75μm"},{"x":3.1,"y":24.6,"m":"1ˢᵗ+2ⁿᵈ+3ʳᵈ Max","s":"3.0 mm, 75μm"},
{"x":3.3,"y":23.3,"m":"1ˢᵗ+2ⁿᵈ+3ʳᵈ Max","s":"3.0 mm, 75μm"},{"x":3.5,"y":22.3,"m":"1ˢᵗ+2ⁿᵈ+3ʳᵈ Max","s":"3.0 mm, 75μm"},{"x":3.7,"y":21.4,"m":"1ˢᵗ+2ⁿᵈ+3ʳᵈ Max","s":"3.0 mm, 75μm"},{"x":3.9,"y":20.5,"m":"1ˢᵗ+2ⁿᵈ+3ʳᵈ Max","s":"3.0 mm, 75μm"},{"x":4.1,"y":19.8,"m":"1ˢᵗ+2ⁿᵈ+3ʳᵈ Max","s":"3.0 mm, 75μm"},{"x":4.3,"y":19.2,"m":"1ˢᵗ+2ⁿᵈ+3ʳᵈ Max","s":"3.0 mm, 75μm"},{"x":4.5,"y":18.7,"m":"1ˢᵗ+2ⁿᵈ+3ʳᵈ Max","s":"3.0 mm, 75μm"},{"x":4.7,"y":18.3,"m":"1ˢᵗ+2ⁿᵈ+3ʳᵈ Max","s":"3.0 mm, 75μm"},{"x":4.9,"y":17.9,"m":"1ˢᵗ+2ⁿᵈ+3ʳᵈ Max","s":"3.0 mm, 75μm"},{"x":5.1,"y":17.5,"m":"1ˢᵗ+2ⁿᵈ+3ʳᵈ Max","s":"3.0 mm, 75μm"},
{"x":5.3,"y":17.4,"m":"1ˢᵗ+2ⁿᵈ+3ʳᵈ Max","s":"3.0 mm, 75μm"},{"x":5.5,"y":17.4,"m":"1ˢᵗ+2ⁿᵈ+3ʳᵈ Max","s":"3.0 mm, 75μm"},{"x":5.7,"y":17.3,"m":"1ˢᵗ+2ⁿᵈ+3ʳᵈ Max","s":"3.0 mm, 75μm"},{"x":5.9,"y":17.3,"m":"1ˢᵗ+2ⁿᵈ+3ʳᵈ Max","s":"3.0 mm, 75μm"},{"x":6.1,"y":17.3,"m":"1ˢᵗ+2ⁿᵈ+3ʳᵈ Max","s":"3.0 mm, 75μm"},{"x":6.3,"y":17.2,"m":"1ˢᵗ+2ⁿᵈ+3ʳᵈ Max","s":"3.0 mm, 75μm"},{"x":6.5,"y":17.3,"m":"1ˢᵗ+2ⁿᵈ+3ʳᵈ Max","s":"3.0 mm, 75μm"},{"x":6.7,"y":17.2,"m":"1ˢᵗ+2ⁿᵈ+3ʳᵈ Max","s":"3.0 mm, 75μm"},{"x":6.9,"y":17.1,"m":"1ˢᵗ+2ⁿᵈ+3ʳᵈ Max","s":"3.0 mm, 75μm"},{"x":7.1,"y":17.2,"m":"1ˢᵗ+2ⁿᵈ+3ʳᵈ Max","s":"3.0 mm, 75μm"},
{"x":7.3,"y":17.2,"m":"1ˢᵗ+2ⁿᵈ+3ʳᵈ Max","s":"3.0 mm, 75μm"},{"x":7.5,"y":17.1,"m":"1ˢᵗ+2ⁿᵈ+3ʳᵈ Max","s":"3.0 mm, 75μm"},{"x":7.7,"y":16.9,"m":"1ˢᵗ+2ⁿᵈ+3ʳᵈ Max","s":"3.0 mm, 75μm"},{"x":7.9,"y":17.0,"m":"1ˢᵗ+2ⁿᵈ+3ʳᵈ Max","s":"3.0 mm, 75μm"},{"x":8.1,"y":17.0,"m":"1ˢᵗ+2ⁿᵈ+3ʳᵈ Max","s":"3.0 mm, 75μm"},{"x":8.3,"y":17.1,"m":"1ˢᵗ+2ⁿᵈ+3ʳᵈ Max","s":"3.0 mm, 75μm"},{"x":8.5,"y":17.1,"m":"1ˢᵗ+2ⁿᵈ+3ʳᵈ Max","s":"3.0 mm, 75μm"},{"x":8.7,"y":17.0,"m":"1ˢᵗ+2ⁿᵈ+3ʳᵈ Max","s":"3.0 mm, 75μm"},{"x":8.9,"y":17.1,"m":"1ˢᵗ+2ⁿᵈ+3ʳᵈ Max","s":"3.0 mm, 75μm"},{"x":9.1,"y":17.3,"m":"1ˢᵗ+2ⁿᵈ+3ʳᵈ Max","s":"3.0 mm, 75μm"},
{"x":9.3,"y":17.1,"m":"1ˢᵗ+2ⁿᵈ+3ʳᵈ Max","s":"3.0 mm, 75μm"},{"x":9.5,"y":17.0,"m":"1ˢᵗ+2ⁿᵈ+3ʳᵈ Max","s":"3.0 mm, 75μm"},{"x":9.7,"y":16.9,"m":"1ˢᵗ+2ⁿᵈ+3ʳᵈ Max","s":"3.0 mm, 75μm"},{"x":9.9,"y":16.9,"m":"1ˢᵗ+2ⁿᵈ+3ʳᵈ Max","s":"3.0 mm, 75μm"},{"x":10.1,"y":17.1,"m":"1ˢᵗ+2ⁿᵈ+3ʳᵈ Max","s":"3.0 mm, 75μm"},

{"x":1.3,"y":34.0,"m":"1ˢᵗ+2ⁿᵈ+3ʳᵈ Max","s":"2.0 mm, 50μm"},{"x":1.5,"y":32.0,"m":"1ˢᵗ+2ⁿᵈ+3ʳᵈ Max","s":"2.0 mm, 50μm"},{"x":1.7,"y":30.2,"m":"1ˢᵗ+2ⁿᵈ+3ʳᵈ Max","s":"2.0 mm, 50μm"},{"x":1.9,"y":29.0,"m":"1ˢᵗ+2ⁿᵈ+3ʳᵈ Max","s":"2.0 mm, 50μm"},{"x":2.1,"y":28.0,"m":"1ˢᵗ+2ⁿᵈ+3ʳᵈ Max","s":"2.0 mm, 50μm"},{"x":2.3,"y":27.2,"m":"1ˢᵗ+2ⁿᵈ+3ʳᵈ Max","s":"2.0 mm, 50μm"},{"x":2.5,"y":26.4,"m":"1ˢᵗ+2ⁿᵈ+3ʳᵈ Max","s":"2.0 mm, 50μm"},{"x":2.7,"y":25.6,"m":"1ˢᵗ+2ⁿᵈ+3ʳᵈ Max","s":"2.0 mm, 50μm"},{"x":2.9,"y":24.8,"m":"1ˢᵗ+2ⁿᵈ+3ʳᵈ Max","s":"2.0 mm, 50μm"},{"x":3.1,"y":24.0,"m":"1ˢᵗ+2ⁿᵈ+3ʳᵈ Max","s":"2.0 mm, 50μm"},
{"x":3.3,"y":23.2,"m":"1ˢᵗ+2ⁿᵈ+3ʳᵈ Max","s":"2.0 mm, 50μm"},{"x":3.5,"y":22.5,"m":"1ˢᵗ+2ⁿᵈ+3ʳᵈ Max","s":"2.0 mm, 50μm"},{"x":3.7,"y":22.0,"m":"1ˢᵗ+2ⁿᵈ+3ʳᵈ Max","s":"2.0 mm, 50μm"},{"x":3.9,"y":21.6,"m":"1ˢᵗ+2ⁿᵈ+3ʳᵈ Max","s":"2.0 mm, 50μm"},{"x":4.1,"y":21.4,"m":"1ˢᵗ+2ⁿᵈ+3ʳᵈ Max","s":"2.0 mm, 50μm"},{"x":4.3,"y":21.2,"m":"1ˢᵗ+2ⁿᵈ+3ʳᵈ Max","s":"2.0 mm, 50μm"},{"x":4.5,"y":21.1,"m":"1ˢᵗ+2ⁿᵈ+3ʳᵈ Max","s":"2.0 mm, 50μm"},{"x":4.7,"y":21.0,"m":"1ˢᵗ+2ⁿᵈ+3ʳᵈ Max","s":"2.0 mm, 50μm"},{"x":4.9,"y":20.9,"m":"1ˢᵗ+2ⁿᵈ+3ʳᵈ Max","s":"2.0 mm, 50μm"},{"x":5.1,"y":20.9,"m":"1ˢᵗ+2ⁿᵈ+3ʳᵈ Max","s":"2.0 mm, 50μm"},
{"x":5.3,"y":20.8,"m":"1ˢᵗ+2ⁿᵈ+3ʳᵈ Max","s":"2.0 mm, 50μm"},{"x":5.5,"y":20.8,"m":"1ˢᵗ+2ⁿᵈ+3ʳᵈ Max","s":"2.0 mm, 50μm"},{"x":5.7,"y":20.7,"m":"1ˢᵗ+2ⁿᵈ+3ʳᵈ Max","s":"2.0 mm, 50μm"},{"x":5.9,"y":20.8,"m":"1ˢᵗ+2ⁿᵈ+3ʳᵈ Max","s":"2.0 mm, 50μm"},{"x":6.1,"y":20.7,"m":"1ˢᵗ+2ⁿᵈ+3ʳᵈ Max","s":"2.0 mm, 50μm"},{"x":6.3,"y":20.8,"m":"1ˢᵗ+2ⁿᵈ+3ʳᵈ Max","s":"2.0 mm, 50μm"},{"x":6.5,"y":20.9,"m":"1ˢᵗ+2ⁿᵈ+3ʳᵈ Max","s":"2.0 mm, 50μm"},{"x":6.7,"y":20.7,"m":"1ˢᵗ+2ⁿᵈ+3ʳᵈ Max","s":"2.0 mm, 50μm"},{"x":6.9,"y":20.8,"m":"1ˢᵗ+2ⁿᵈ+3ʳᵈ Max","s":"2.0 mm, 50μm"},{"x":7.1,"y":20.6,"m":"1ˢᵗ+2ⁿᵈ+3ʳᵈ Max","s":"2.0 mm, 50μm"},
{"x":7.3,"y":20.8,"m":"1ˢᵗ+2ⁿᵈ+3ʳᵈ Max","s":"2.0 mm, 50μm"},{"x":7.5,"y":20.7,"m":"1ˢᵗ+2ⁿᵈ+3ʳᵈ Max","s":"2.0 mm, 50μm"},{"x":7.7,"y":20.6,"m":"1ˢᵗ+2ⁿᵈ+3ʳᵈ Max","s":"2.0 mm, 50μm"},{"x":7.9,"y":20.7,"m":"1ˢᵗ+2ⁿᵈ+3ʳᵈ Max","s":"2.0 mm, 50μm"},{"x":8.1,"y":20.8,"m":"1ˢᵗ+2ⁿᵈ+3ʳᵈ Max","s":"2.0 mm, 50μm"},{"x":8.3,"y":20.6,"m":"1ˢᵗ+2ⁿᵈ+3ʳᵈ Max","s":"2.0 mm, 50μm"},{"x":8.5,"y":20.7,"m":"1ˢᵗ+2ⁿᵈ+3ʳᵈ Max","s":"2.0 mm, 50μm"},{"x":8.7,"y":20.8,"m":"1ˢᵗ+2ⁿᵈ+3ʳᵈ Max","s":"2.0 mm, 50μm"},{"x":8.9,"y":20.7,"m":"1ˢᵗ+2ⁿᵈ+3ʳᵈ Max","s":"2.0 mm, 50μm"},{"x":9.1,"y":20.8,"m":"1ˢᵗ+2ⁿᵈ+3ʳᵈ Max","s":"2.0 mm, 50μm"},
{"x":9.3,"y":21.1,"m":"1ˢᵗ+2ⁿᵈ+3ʳᵈ Max","s":"2.0 mm, 50μm"},{"x":9.5,"y":20.7,"m":"1ˢᵗ+2ⁿᵈ+3ʳᵈ Max","s":"2.0 mm, 50μm"},{"x":9.7,"y":20.6,"m":"1ˢᵗ+2ⁿᵈ+3ʳᵈ Max","s":"2.0 mm, 50μm"},{"x":9.9,"y":20.6,"m":"1ˢᵗ+2ⁿᵈ+3ʳᵈ Max","s":"2.0 mm, 50μm"},{"x":10.1,"y":20.8,"m":"1ˢᵗ+2ⁿᵈ+3ʳᵈ Max","s":"2.0 mm, 50μm"},

{"x":1.3,"y":35.5,"m":"1ˢᵗ+2ⁿᵈ+3ʳᵈ Max","s":"1.3 mm, 50μm"},{"x":1.5,"y":33.0,"m":"1ˢᵗ+2ⁿᵈ+3ʳᵈ Max","s":"1.3 mm, 50μm"},{"x":1.7,"y":31.6,"m":"1ˢᵗ+2ⁿᵈ+3ʳᵈ Max","s":"1.3 mm, 50μm"},{"x":1.9,"y":30.3,"m":"1ˢᵗ+2ⁿᵈ+3ʳᵈ Max","s":"1.3 mm, 50μm"},{"x":2.1,"y":29.2,"m":"1ˢᵗ+2ⁿᵈ+3ʳᵈ Max","s":"1.3 mm, 50μm"},{"x":2.3,"y":28.4,"m":"1ˢᵗ+2ⁿᵈ+3ʳᵈ Max","s":"1.3 mm, 50μm"},{"x":2.5,"y":27.7,"m":"1ˢᵗ+2ⁿᵈ+3ʳᵈ Max","s":"1.3 mm, 50μm"},{"x":2.7,"y":27.0,"m":"1ˢᵗ+2ⁿᵈ+3ʳᵈ Max","s":"1.3 mm, 50μm"},{"x":2.9,"y":26.3,"m":"1ˢᵗ+2ⁿᵈ+3ʳᵈ Max","s":"1.3 mm, 50μm"},{"x":3.1,"y":25.6,"m":"1ˢᵗ+2ⁿᵈ+3ʳᵈ Max","s":"1.3 mm, 50μm"},
{"x":3.3,"y":25.2,"m":"1ˢᵗ+2ⁿᵈ+3ʳᵈ Max","s":"1.3 mm, 50μm"},{"x":3.5,"y":24.9,"m":"1ˢᵗ+2ⁿᵈ+3ʳᵈ Max","s":"1.3 mm, 50μm"},{"x":3.7,"y":24.7,"m":"1ˢᵗ+2ⁿᵈ+3ʳᵈ Max","s":"1.3 mm, 50μm"},{"x":3.9,"y":24.6,"m":"1ˢᵗ+2ⁿᵈ+3ʳᵈ Max","s":"1.3 mm, 50μm"},{"x":4.1,"y":24.5,"m":"1ˢᵗ+2ⁿᵈ+3ʳᵈ Max","s":"1.3 mm, 50μm"},{"x":4.3,"y":24.5,"m":"1ˢᵗ+2ⁿᵈ+3ʳᵈ Max","s":"1.3 mm, 50μm"},{"x":4.5,"y":24.4,"m":"1ˢᵗ+2ⁿᵈ+3ʳᵈ Max","s":"1.3 mm, 50μm"},{"x":4.7,"y":24.5,"m":"1ˢᵗ+2ⁿᵈ+3ʳᵈ Max","s":"1.3 mm, 50μm"},{"x":4.9,"y":24.6,"m":"1ˢᵗ+2ⁿᵈ+3ʳᵈ Max","s":"1.3 mm, 50μm"},{"x":5.1,"y":24.5,"m":"1ˢᵗ+2ⁿᵈ+3ʳᵈ Max","s":"1.3 mm, 50μm"},
{"x":5.3,"y":24.4,"m":"1ˢᵗ+2ⁿᵈ+3ʳᵈ Max","s":"1.3 mm, 50μm"},{"x":5.5,"y":24.6,"m":"1ˢᵗ+2ⁿᵈ+3ʳᵈ Max","s":"1.3 mm, 50μm"},{"x":5.7,"y":24.5,"m":"1ˢᵗ+2ⁿᵈ+3ʳᵈ Max","s":"1.3 mm, 50μm"},{"x":5.9,"y":24.4,"m":"1ˢᵗ+2ⁿᵈ+3ʳᵈ Max","s":"1.3 mm, 50μm"},{"x":6.1,"y":24.5,"m":"1ˢᵗ+2ⁿᵈ+3ʳᵈ Max","s":"1.3 mm, 50μm"},{"x":6.3,"y":24.6,"m":"1ˢᵗ+2ⁿᵈ+3ʳᵈ Max","s":"1.3 mm, 50μm"},{"x":6.5,"y":24.5,"m":"1ˢᵗ+2ⁿᵈ+3ʳᵈ Max","s":"1.3 mm, 50μm"},{"x":6.7,"y":24.4,"m":"1ˢᵗ+2ⁿᵈ+3ʳᵈ Max","s":"1.3 mm, 50μm"},{"x":6.9,"y":24.5,"m":"1ˢᵗ+2ⁿᵈ+3ʳᵈ Max","s":"1.3 mm, 50μm"},{"x":7.1,"y":24.5,"m":"1ˢᵗ+2ⁿᵈ+3ʳᵈ Max","s":"1.3 mm, 50μm"},
{"x":7.3,"y":24.6,"m":"1ˢᵗ+2ⁿᵈ+3ʳᵈ Max","s":"1.3 mm, 50μm"},{"x":7.5,"y":24.3,"m":"1ˢᵗ+2ⁿᵈ+3ʳᵈ Max","s":"1.3 mm, 50μm"},{"x":7.7,"y":24.4,"m":"1ˢᵗ+2ⁿᵈ+3ʳᵈ Max","s":"1.3 mm, 50μm"},{"x":7.9,"y":24.5,"m":"1ˢᵗ+2ⁿᵈ+3ʳᵈ Max","s":"1.3 mm, 50μm"},{"x":8.1,"y":24.5,"m":"1ˢᵗ+2ⁿᵈ+3ʳᵈ Max","s":"1.3 mm, 50μm"},{"x":8.3,"y":24.4,"m":"1ˢᵗ+2ⁿᵈ+3ʳᵈ Max","s":"1.3 mm, 50μm"},{"x":8.5,"y":24.6,"m":"1ˢᵗ+2ⁿᵈ+3ʳᵈ Max","s":"1.3 mm, 50μm"},{"x":8.7,"y":24.4,"m":"1ˢᵗ+2ⁿᵈ+3ʳᵈ Max","s":"1.3 mm, 50μm"},{"x":8.9,"y":24.5,"m":"1ˢᵗ+2ⁿᵈ+3ʳᵈ Max","s":"1.3 mm, 50μm"},{"x":9.1,"y":24.7,"m":"1ˢᵗ+2ⁿᵈ+3ʳᵈ Max","s":"1.3 mm, 50μm"},
{"x":9.3,"y":24.4,"m":"1ˢᵗ+2ⁿᵈ+3ʳᵈ Max","s":"1.3 mm, 50μm"},{"x":9.5,"y":24.2,"m":"1ˢᵗ+2ⁿᵈ+3ʳᵈ Max","s":"1.3 mm, 50μm"},{"x":9.7,"y":24.3,"m":"1ˢᵗ+2ⁿᵈ+3ʳᵈ Max","s":"1.3 mm, 50μm"},{"x":9.9,"y":24.4,"m":"1ˢᵗ+2ⁿᵈ+3ʳᵈ Max","s":"1.3 mm, 50μm"},{"x":10.1,"y":24.5,"m":"1ˢᵗ+2ⁿᵈ+3ʳᵈ Max","s":"1.3 mm, 50μm"}
]},
"encoding":{
 "x":{"field":"x","type":"quantitative","scale":{"domain":[-0.52,10.52],"nice":false,"zero":false},"axis":{"title":"Radiator thickness (mm)","values":[0,1,2,3,4,5,6,7,8,9,10],"format":"d","titlePadding":3,"grid":true}},
 "y":{"field":"y","type":"quantitative","scale":{"domain":[0,50],"nice":false},"axis":{"title":"Time resolution (ps)","values":[0,10,20,30,40,50],"titlePadding":5,"grid":true}}
},
"layer":[
 {"mark":{"type":"line","strokeWidth":1.5,"clip":true},
  "encoding":{
   "color":{"field":"m","type":"nominal","scale":{"domain":["1ˢᵗ Max","1ˢᵗ+2ⁿᵈ Max","1ˢᵗ+2ⁿᵈ+3ʳᵈ Max"],"range":["#1f77b4","#ffa500","#008000"]},
     "legend":{"title":null,"orient":"bottom-right","symbolType":"M-2.3,0H2.3M0,-0.66V0.66","symbolSize":100,"symbolStrokeWidth":1.8,"symbolOffset":3.3,"labelOffset":17,
       "encode":{"symbols":{"update":{"fill":{"value":"transparent"},"strokeWidth":{"value":1.8},"opacity":{"value":1}}}}}},
   "strokeDash":{"field":"s","type":"nominal","scale":{"domain":["1.3 mm, 50μm","2.0 mm, 50μm","3.0 mm, 75μm"],"range":[[1.5,2.5],[5.5,2.4],[1,0]]},"legend":null}
  }},
 {"transform":[{"filter":"datum.s == '3.0 mm, 75μm'"}],
  "mark":{"type":"point","shape":"circle","filled":true,"size":12,"opacity":1,"clip":true},
  "encoding":{"color":{"field":"m","type":"nominal","legend":null}}},
 {"transform":[{"filter":"datum.s == '2.0 mm, 50μm'"}],
  "mark":{"type":"point","shape":"M-1,-1L1,1M-1,1L1,-1","filled":false,"size":20,"strokeWidth":1,"opacity":1,"clip":true},
  "encoding":{"color":{"field":"m","type":"nominal","legend":null}}},
 {"transform":[{"filter":"datum.s == '1.3 mm, 50μm'"}],
  "mark":{"type":"point","shape":"M-1,0H1M0,-1V1","filled":false,"size":30,"strokeWidth":1,"opacity":1,"clip":true},
  "encoding":{"color":{"field":"m","type":"nominal","legend":null}}},
 {"mark":{"type":"point","filled":false,"opacity":0,"color":"black","clip":true},
  "encoding":{"shape":{"field":"s","type":"nominal","scale":{"domain":["3.0 mm, 75μm","2.0 mm, 50μm","1.3 mm, 50μm"],
     "range":["M-2.14,0H2.14M-0.24,0A0.24,0.24 0 1,1 0.24,0A0.24,0.24 0 1,1 -0.24,0",
              "M-2.14,0H-1.03M-0.55,0H0.56M1.04,0H2.14M-0.44,-0.44L0.44,0.44M-0.44,0.44L0.44,-0.44",
              "M-2.14,0H-1.84M-1.34,0H-1.04M-0.54,0H-0.24M0.26,0H0.56M1.06,0H1.36M1.86,0H2.14M-0.56,0H0.56M0,-0.56V0.56"]},
     "legend":{"title":"SiPM and SPAD size","orient":"bottom-left","titleAnchor":"middle","symbolSize":100,"symbolOffset":4.3,"labelOffset":17,"symbolStrokeWidth":1.5,
       "encode":{"symbols":{"update":{"fill":{"value":"transparent"},"stroke":{"value":"black"},"opacity":{"value":1},"strokeOpacity":{"value":1},"strokeWidth":{"value":1.5}}}}}}}}
]
}
